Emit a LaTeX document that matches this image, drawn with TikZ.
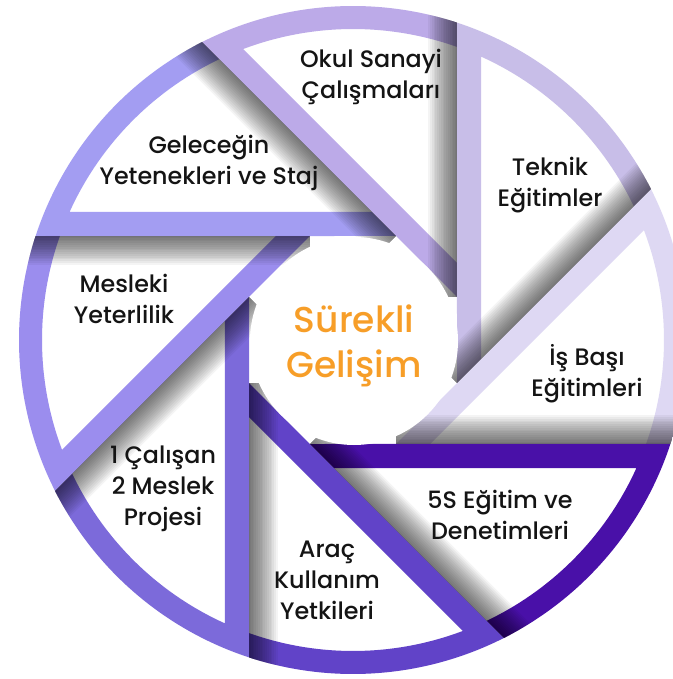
\documentclass[tikz,border=0pt]{standalone}
\usepackage{fontspec}
\setmainfont{Poppins}[UprightFont={* Medium}]
\usepackage{tikz}
\definecolor{bladeA}{RGB}{163,157,242}
\definecolor{bladeB}{RGB}{188,170,232}
\definecolor{bladeC}{RGB}{200,190,232}
\definecolor{bladeD}{RGB}{222,216,243}
\definecolor{bladeE}{RGB}{73,16,168}
\definecolor{bladeF}{RGB}{97,67,200}
\definecolor{bladeG}{RGB}{124,106,218}
\definecolor{bladeH}{RGB}{155,141,238}
\definecolor{sunset}{RGB}{247,158,40}
% one blade: ring arc plus its bar, drawn for the top bar
\newcommand{\drawblade}[1]{\fill[#1] (161.86:334) arc[start angle=161.86,end angle=116.86,radius=334pt] -- (115.46:311) arc[start angle=115.46,end angle=155.69,radius=311pt] -- (19.08,128) -- (43.08,104) -- cycle;}
\newcommand{\drawshadow}{\foreach \s in {1,...,16}{\fill[black,opacity=0.045] (-334,{104-1.8*\s}) rectangle (-43.08,104);}}
\tikzset{seglabel/.style={align=center,font=\fontsize{23.8}{31}\selectfont,text=black!92}}

\begin{document}
\begin{tikzpicture}[x=1pt,y=1pt]
\fill[white] (-353,-339) rectangle (319,340);
\useasboundingbox (-353,-339) rectangle (319,340);
\foreach \k/\c in {0/bladeA,1/bladeB,2/bladeC,3/bladeD,4/bladeE,5/bladeF,6/bladeG,7/bladeH}{
  \begin{scope}[rotate=-45*\k]\drawblade{\c}\end{scope}
}
\begin{scope}
  \clip (0,0) circle[radius=334pt];
  \foreach \k in {0,...,7}{\begin{scope}[rotate=-45*\k]\drawshadow\end{scope}}
\end{scope}
\node[circle,fill=white,minimum size=208pt,inner sep=0pt] (core) at (1,-1) {};
\node[align=center,font=\fontsize{36}{45}\selectfont,text=sunset] (corelabel) at (1,-6) {Sürekli\\Gelişim};
\node[seglabel] (okul) at (18,263) {Okul Sanayi\\Çalışmaları};
\node[seglabel] (gelecek) at (-144,177) {Geleceğin\\Yetenekleri ve Staj};
\node[seglabel] (teknik) at (197,155) {Teknik\\Eğitimler};
\node[seglabel] (mesleki) at (-229,41) {Mesleki\\Yeterlilik};
\node[seglabel] (isbasi) at (234,-34) {İş Başı\\Eğitimleri};
\node[seglabel] (calisan) at (-190,-149) {1 Çalışan\\2 Meslek\\Projesi};
\node[seglabel] (bes) at (147,-175) {5S Eğitim ve\\Denetimleri};
\node[seglabel] (arac) at (-26,-240) {Araç\\Kullanım\\Yetkileri};
\end{tikzpicture}
\end{document}
